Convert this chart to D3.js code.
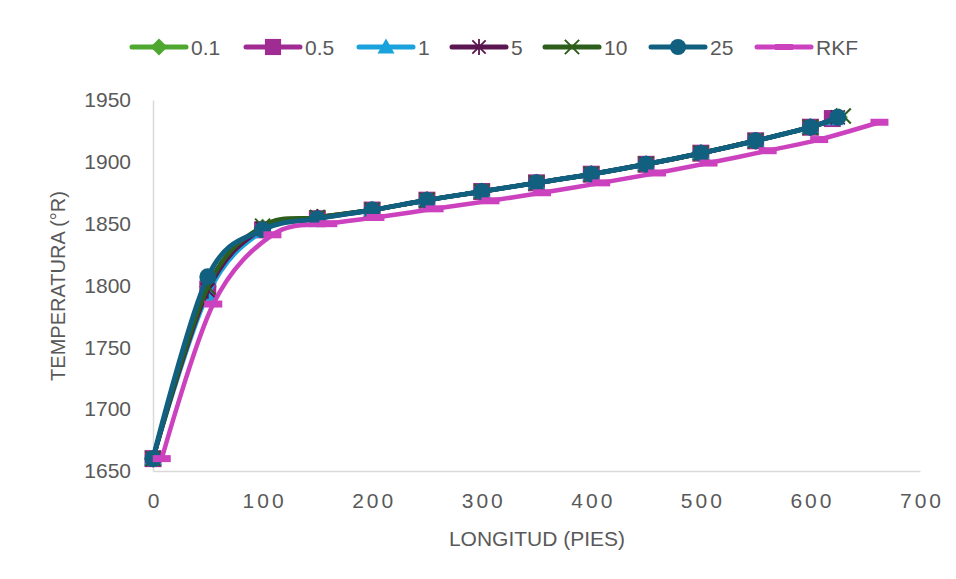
<!DOCTYPE html>
<html><head><meta charset="utf-8">
<script src="https://cdn.jsdelivr.net/npm/d3@7"></script>
<style>
html,body{margin:0;padding:0;background:#fff;}
svg{display:block;font-family:"Liberation Sans",Arial,sans-serif;}
</style></head>
<body>
<svg id="chart" width="956" height="579"></svg>
<script>
// ---- data ----
const seriesNames = ["0.1","0.5","1","5","10","25","RKF"];
const x01 = [0,50,100,150,200,250,300,350,400,450,500,550,600,626];
const T01 = [1660,1799,1847,1855,1861,1869,1876,1883,1890,1898,1907,1917,1928,1936];
const x05 = [0,50,100,150,200,250,300,350,400,450,500,550,600,620];
const T05 = [1660,1797,1845,1854,1861,1869,1876,1883,1890,1898,1907,1917,1928,1935];
const x1  = [0,50,100,150,200,250,300,350,400,450,500,550,600,622];
const T1  = [1660,1793,1844,1854,1861,1869,1876,1883,1890,1898,1907,1917,1928,1935];
const x5  = [0,50,100,150,200,250,300,350,400,450,500,550,600,625];
const T5  = [1660,1796,1846,1855,1861,1869,1876,1883,1890,1898,1907,1917,1928,1936];
const x10 = [0,50,100,150,200,250,300,350,400,450,500,550,600,630];
const T10 = [1660,1799,1848,1855,1861,1869,1876,1883,1890,1898,1907,1917,1928,1937];
const x25 = [0,50,100,150,200,250,300,350,400,450,500,550,600,625];
const T25 = [1660,1807,1845,1854,1861,1869,1876,1883,1890,1898,1907,1917,1928,1936];
const xRKF = [8,55,109,160,203,257,308,355,409,460,507,561,608,663];
const TRKF = [1660,1785,1841,1850,1855,1862,1868.5,1875,1883,1891,1899,1909,1918,1932];
const xTicks = [0,100,200,300,400,500,600,700];
const yTicks = [1650,1700,1750,1800,1850,1900,1950];
const xTitle = "LONGITUD (PIES)";
const yTitle = "TEMPERATURA (°R)";

const styles = [
  {name:"0.1", xs:x01, ys:T01, color:"#4EA72E", marker:"diamond", lw:4.5},
  {name:"0.5", xs:x05, ys:T05, color:"#A02B93", marker:"square", lw:4.5},
  {name:"1",   xs:x1,  ys:T1,  color:"#1AA2DD", marker:"triangle", lw:4.5},
  {name:"5",   xs:x5,  ys:T5,  color:"#5A1650", marker:"star", lw:4.5},
  {name:"10",  xs:x10, ys:T10, color:"#2D5E1C", marker:"x", lw:4.5},
  {name:"25",  xs:x25, ys:T25, color:"#11607F", marker:"circle", lw:5},
  {name:"RKF", xs:xRKF, ys:TRKF, color:"#CC42BE", marker:"dash", lw:4.5}
];

const svg = d3.select("#chart");
const L=153, R=920, Tp=100, B=471;
const x = d3.scaleLinear().domain([0,700]).range([L,R]);
const y = d3.scaleLinear().domain([1650,1950]).range([B,Tp]);
const grey = "#595959";

// axes
const xAxis = svg.append("g").attr("transform",`translate(0,${B})`)
  .call(d3.axisBottom(x).tickValues(xTicks).tickFormat(d3.format("d")).tickSize(0).tickPadding(22));
xAxis.select(".domain").attr("stroke","#D9D9D9").attr("stroke-width",1.5);
xAxis.selectAll("text").attr("fill",grey).attr("font-size",21).attr("font-family","Liberation Sans, Arial")
  .style("letter-spacing","3px").attr("dx","1.5px");

const yAxis = svg.append("g").attr("transform",`translate(${L},0)`)
  .call(d3.axisLeft(y).tickValues(yTicks).tickFormat(d3.format("d")).tickSize(0).tickPadding(22));
yAxis.select(".domain").attr("stroke","#D9D9D9").attr("stroke-width",1.5);
yAxis.selectAll("text").attr("fill",grey).attr("font-size",21).attr("font-family","Liberation Sans, Arial");

svg.append("text").attr("x",537).attr("y",546).attr("text-anchor","middle")
  .attr("fill",grey).attr("font-size",21).text(xTitle);
svg.append("text").attr("transform","translate(65,286) rotate(-90)").attr("text-anchor","middle")
  .attr("fill",grey).attr("font-size",20).text(yTitle);

// marker drawing
function drawMarker(g, type, cx, cy, color, s){
  s = s||1;
  if(type==="diamond"){
    const r=9*s;
    g.append("path").attr("d",`M${cx},${cy-r}L${cx+r},${cy}L${cx},${cy+r}L${cx-r},${cy}Z`).attr("fill",color);
  } else if(type==="square"){
    const h=8.5*s;
    g.append("rect").attr("x",cx-h).attr("y",cy-h).attr("width",2*h).attr("height",2*h).attr("fill",color);
  } else if(type==="triangle"){
    const r=9*s;
    g.append("path").attr("d",`M${cx},${cy-r}L${cx+r},${cy+r*0.75}L${cx-r},${cy+r*0.75}Z`).attr("fill",color);
  } else if(type==="star"){
    const r=7*s;
    const p = `M${cx-r},${cy-r}L${cx+r},${cy+r}M${cx+r},${cy-r}L${cx-r},${cy+r}M${cx},${cy-r*1.2}L${cx},${cy+r*1.2}`;
    g.append("path").attr("d",p).attr("stroke",color).attr("stroke-width",1.8).attr("fill","none");
  } else if(type==="x"){
    const r=7.5*s;
    g.append("path").attr("d",`M${cx-r},${cy-r}L${cx+r},${cy+r}M${cx+r},${cy-r}L${cx-r},${cy+r}`)
      .attr("stroke",color).attr("stroke-width",2).attr("fill","none");
  } else if(type==="circle"){
    g.append("circle").attr("cx",cx).attr("cy",cy).attr("r",8.5*s).attr("fill",color);
  } else if(type==="dash"){
    g.append("rect").attr("x",cx-9*s).attr("y",cy-3.5).attr("width",18*s).attr("height",7).attr("fill",color);
  }
}

const line = d3.line().x(d=>x(d[0])).y(d=>y(d[1])).curve(d3.curveCardinal.tension(0));
const plot = svg.append("g");
styles.forEach(st=>{
  const pts = st.xs.map((v,i)=>[v, st.ys[i]]);
  const g = plot.append("g");
  g.append("path").datum(pts).attr("d",line).attr("fill","none")
    .attr("stroke",st.color).attr("stroke-width",st.lw).attr("stroke-linecap","round").attr("stroke-linejoin","round");
  pts.forEach(p=>drawMarker(g, st.marker, x(p[0]), y(p[1]), st.color, 1));
});

// legend
const legX = [132,246,359,452,545,651,757];
const leg = svg.append("g");
styles.forEach((st,i)=>{
  const lx = legX[i], ly = 47;
  leg.append("line").attr("x1",lx).attr("x2",lx+54).attr("y1",ly).attr("y2",ly)
    .attr("stroke",st.color).attr("stroke-width",5).attr("stroke-linecap","round");
  if(st.marker!=="dash") drawMarker(leg, st.marker, lx+27, ly, st.color, 0.95);
  else leg.append("rect").attr("x",lx+18).attr("y",ly-3).attr("width",18).attr("height",6).attr("fill",st.color);
  leg.append("text").attr("x",lx+59).attr("y",ly+7.5)
    .attr("fill",grey).attr("font-size",21).text(st.name);
});
</script>
</body></html>
